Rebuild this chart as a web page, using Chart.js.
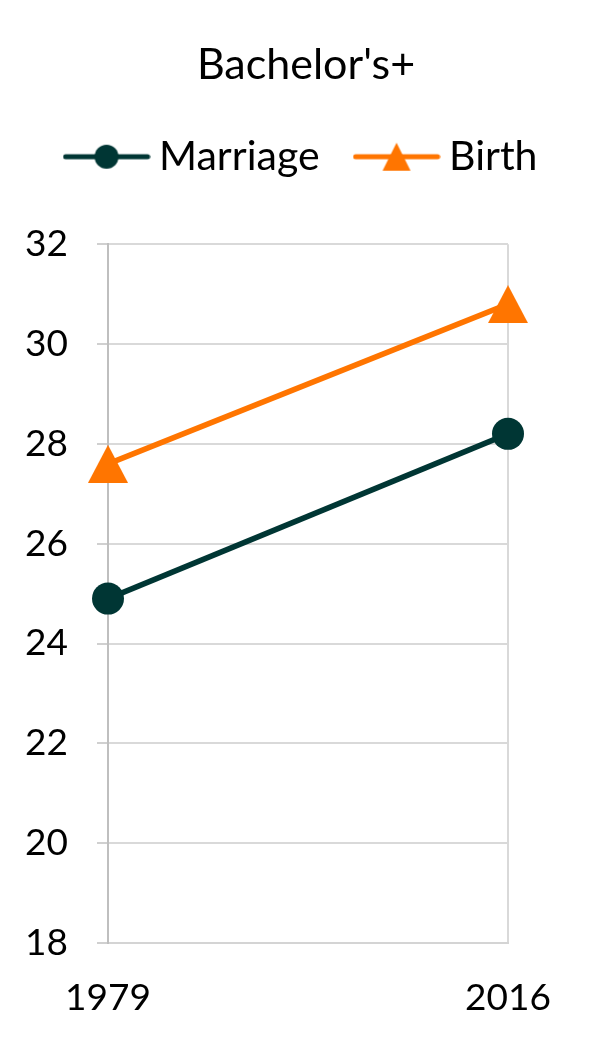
<!DOCTYPE html>
<html>
<head>
<meta charset="utf-8">
<script src="https://cdn.jsdelivr.net/npm/chart.js@4.4.1/dist/chart.umd.min.js"></script>
<style>
    html, body { margin: 0; padding: 0; background: #fff; }
    #wrap { position: relative; width: 596px; height: 1050px; }
</style>
</head>
<body>
<div id="wrap"><canvas id="chart"></canvas></div>
<script>
// --- Data ---
const years = ['1979', '2016'];
const marriageAge = [24.9, 28.2];
const birthAge = [27.6, 30.8];
const seriesNames = ['Marriage', 'Birth'];
const yMin = 18;
const yMax = 32;
const yStep = 2;

const GREEN = '#003634';
const ORANGE = '#ff7500';
const FONT = 'Lato, "Noto Sans", sans-serif';

// --- Marker images ---
function triangleImage(w, h, color) {
    const c = document.createElement('canvas');
    c.width = w; c.height = h;
    const ctx = c.getContext('2d');
    ctx.fillStyle = color;
    ctx.beginPath();
    ctx.moveTo(w / 2, 0);
    ctx.lineTo(w, h);
    ctx.lineTo(0, h);
    ctx.closePath();
    ctx.fill();
    return c;
}

// legend swatch: line with marker in the middle
function legendSwatch(color, marker) {
    const w = 88, h = 30;
    const c = document.createElement('canvas');
    c.width = w; c.height = h;
    const ctx = c.getContext('2d');
    ctx.strokeStyle = color;
    ctx.lineWidth = 5;
    ctx.lineCap = 'round';
    ctx.beginPath();
    ctx.moveTo(3, h / 2);
    ctx.lineTo(w - 3, h / 2);
    ctx.stroke();
    ctx.fillStyle = color;
    ctx.beginPath();
    if (marker === 'circle') {
        ctx.arc(w / 2, h / 2, 12, 0, Math.PI * 2);
    } else {
        ctx.moveTo(w / 2, 1);
        ctx.lineTo(w / 2 + 14, h - 1);
        ctx.lineTo(w / 2 - 14, h - 1);
        ctx.closePath();
    }
    ctx.fill();
    return c;
}

const birthMarker = triangleImage(40, 38, ORANGE);
const swatches = [legendSwatch(GREEN, 'circle'), legendSwatch(ORANGE, 'triangle')];

// extra room under the legend before the plot
const legendExtra = 57;
const legendSpacer = {
    id: 'legendSpacer',
    beforeLayout(chart) {
        const lg = chart.legend;
        if (lg && !lg._spaced) {
            const fit = lg.fit;
            lg.fit = function () { fit.call(this); this.height += legendExtra; };
            lg._spaced = true;
        }
    }
};

const ctx = document.getElementById('chart').getContext('2d');
new Chart(ctx, {
    type: 'line',
    data: {
        labels: years,
        datasets: [{
            label: seriesNames[0],
            data: marriageAge,
            borderColor: GREEN,
            backgroundColor: GREEN,
            borderWidth: 5.5,
            pointStyle: 'circle',
            pointRadius: 16,
            pointBorderWidth: 0,
            tension: 0
        }, {
            label: seriesNames[1],
            data: birthAge,
            borderColor: ORANGE,
            backgroundColor: ORANGE,
            borderWidth: 5.5,
            pointStyle: birthMarker,
            pointRadius: 19,
            tension: 0
        }]
    },
    plugins: [legendSpacer],
    options: {
        responsive: true,
        maintainAspectRatio: false,
        animation: false,
        layout: {
            padding: { top: 0, right: 0, bottom: 29, left: 16 }
        },
        plugins: {
            title: {
                display: true,
                text: "Bachelor's+",
                color: '#000',
                font: { family: FONT, size: 43, weight: 'normal', lineHeight: 1.2 },
                padding: { top: 39, bottom: 0.6 }
            },
            legend: {
                display: true,
                labels: {
                    color: '#000',
                    font: { family: FONT, size: 41 },
                    usePointStyle: true,
                    pointStyleWidth: 64,
                    padding: 45,
                    generateLabels: (chart) => {
                        const items = Chart.defaults.plugins.legend.labels.generateLabels(chart);
                        items.forEach((it, i) => { it.pointStyle = swatches[i]; });
                        return items;
                    }
                }
            },
            tooltip: { enabled: false }
        },
        scales: {
            x: {
                offset: false,
                afterFit: (scale) => { scale.height = 78; },
                grid: {
                    color: '#d9d9d9',
                    lineWidth: 2,
                    drawTicks: false
                },
                border: { color: '#d4d4d4', width: 2 },
                ticks: {
                    color: '#000',
                    font: { family: FONT, size: 37 },
                    padding: 33,
                    maxRotation: 0
                }
            },
            y: {
                min: yMin,
                max: yMax,
                afterFit: (scale) => { scale.width = 92; },
                grid: {
                    color: '#d9d9d9',
                    lineWidth: 2,
                    tickLength: 11,
                    tickColor: '#d0d0d0'
                },
                border: { color: '#bfbfbf', width: 2 },
                ticks: {
                    stepSize: yStep,
                    color: '#000',
                    font: { family: FONT, size: 37 },
                    padding: 29
                }
            },
            // empty right-hand axis that only reserves the margin
            yRight: {
                position: 'right',
                min: yMin,
                max: yMax,
                afterFit: (scale) => { scale.width = 88; },
                grid: { display: false },
                border: { display: false },
                ticks: { display: false }
            }
        }
    }
});
</script>
</body>
</html>
